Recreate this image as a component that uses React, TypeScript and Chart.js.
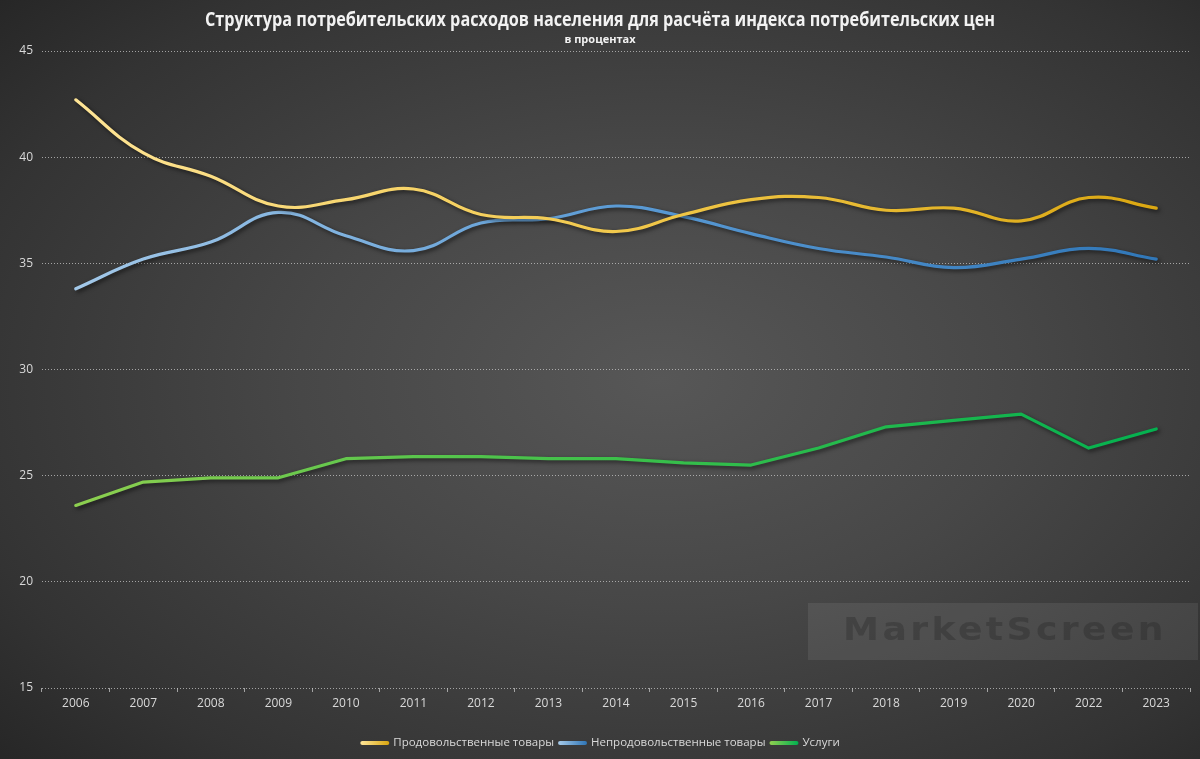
import React, { useEffect, useRef } from "react";
import { Chart, registerables } from "chart.js";
Chart.register(...registerables);

const titleText = "Структура потребительских расходов населения для расчёта индекса потребительских цен";
const subtitleText = "в процентах";
const watermarkText = "MarketScreen";

const years = ["2006", "2007", "2008", "2009", "2010", "2011", "2012", "2013", "2014", "2015", "2016", "2017", "2018", "2019", "2020", "2022", "2023"];
const seriesNames = ["Продовольственные товары", "Непродовольственные товары", "Услуги"];
const food = [42.7, 40.2, 39.1, 37.7, 38.0, 38.5, 37.3, 37.1, 36.5, 37.3, 38.0, 38.1, 37.5, 37.6, 37.0, 38.1, 37.6];
const nonFood = [33.8, 35.2, 36.0, 37.4, 36.3, 35.6, 36.9, 37.1, 37.7, 37.2, 36.4, 35.7, 35.3, 34.8, 35.2, 35.7, 35.2];
const services = [23.6, 24.7, 24.9, 24.9, 25.8, 25.9, 25.9, 25.8, 25.8, 25.6, 25.5, 26.3, 27.3, 27.6, 27.9, 26.3, 27.2];

const palettes = [
  ["#FFE69A", "#F2C94C", "#D9A50E"],
  ["#A7CBEA", "#5B9BD5", "#2E75B6"],
  ["#92D050", "#3CC04A", "#00B050"],
];

const FONT = '"Open Sans", "Noto Sans", sans-serif';

function gradient(p: string[]) {
  return (ctx: any) => {
    const chart = ctx.chart;
    const a = chart.chartArea;
    if (!a) return p[1];
    const g = chart.ctx.createLinearGradient(a.left, 0, a.right, 0);
    g.addColorStop(0, p[0]);
    g.addColorStop(0.5, p[1]);
    g.addColorStop(1, p[2]);
    return g;
  };
}

const decor = {
  id: "decor",
  beforeDraw(chart: any) {
    const ctx = chart.ctx;
    ctx.save();
    ctx.fillStyle = "rgba(255,255,255,0.08)";
    ctx.fillRect(808, 603, 390, 57);
    ctx.font = `bold 32px "DejaVu Sans", sans-serif`;
    (ctx as any).letterSpacing = "3px";
    ctx.fillStyle = "rgba(30,30,30,0.28)";
    ctx.textAlign = "left";
    ctx.textBaseline = "middle";
    const w = ctx.measureText(watermarkText).width;
    ctx.translate(843, 632);
    ctx.scale(324 / w, 1);
    ctx.fillText(watermarkText, 0, 0);
    ctx.restore();
  },
  beforeDatasetDraw(chart: any) {
    const ctx = chart.ctx;
    ctx.save();
    ctx.shadowColor = "rgba(0,0,0,0.6)";
    ctx.shadowBlur = 4;
    ctx.shadowOffsetX = 2;
    ctx.shadowOffsetY = 2;
  },
  afterDatasetDraw(chart: any) {
    chart.ctx.restore();
  },
  afterDraw(chart: any) {
    const ctx = chart.ctx;
    ctx.save();
    ctx.textAlign = "center";
    ctx.textBaseline = "middle";
    ctx.fillStyle = "#F2F2F2";
    ctx.font = `bold 19px ${FONT}`;
    ctx.fillText(titleText, 600, 21, 790);
    ctx.font = `bold 11px ${FONT}`;
    ctx.fillStyle = "#F2F2F2";
    ctx.fillText(subtitleText, 600, 40, 76);

    // legend
    ctx.font = `11.5px ${FONT}`;
    ctx.textAlign = "left";
    const sw = 29, gap1 = 4, gap2 = 4;
    const widths = seriesNames.map((n) => ctx.measureText(n).width);
    const total = widths.reduce((s, v) => s + v + sw + gap1, 0) + gap2 * (seriesNames.length - 1);
    let x = 600 - total / 2;
    const y = 743;
    seriesNames.forEach((n, i) => {
      const p = palettes[i];
      const g = ctx.createLinearGradient(x, 0, x + sw, 0);
      g.addColorStop(0, p[0]);
      g.addColorStop(1, p[2]);
      ctx.strokeStyle = g;
      ctx.lineWidth = 4;
      ctx.lineCap = "round";
      ctx.beginPath();
      ctx.moveTo(x + 2, y);
      ctx.lineTo(x + sw - 2, y);
      ctx.stroke();
      x += sw + gap1;
      ctx.fillStyle = "#D9D9D9";
      ctx.fillText(n, x, y);
      x += widths[i] + gap2;
    });
    ctx.restore();
  },
};

export default function App() {
  const ref = useRef<HTMLCanvasElement>(null);
  useEffect(() => {
    document.body.style.margin = "0";
    const mk = (label: string, data: number[], i: number, tension: number) => ({
      label,
      data,
      borderColor: gradient(palettes[i]),
      borderWidth: 3.2,
      pointRadius: 0,
      pointHoverRadius: 0,
      tension,
      borderCapStyle: "round" as const,
      borderJoinStyle: "round" as const,
      fill: false,
    });
    const chart = new Chart(ref.current as HTMLCanvasElement, {
      type: "line",
      data: {
        labels: years,
        datasets: [
          mk(seriesNames[0], food, 0, 0.42),
          mk(seriesNames[1], nonFood, 1, 0.42),
          mk(seriesNames[2], services, 2, 0),
        ],
      },
      options: {
        animation: false,
        responsive: true,
        maintainAspectRatio: false,
        layout: { padding: { top: 51, left: 0, right: 10, bottom: 41 } },
        plugins: {
          legend: { display: false },
          title: { display: false },
          tooltip: { enabled: false },
        },
        scales: {
          x: {
            offset: true,
            grid: {
              display: true,
              drawOnChartArea: false,
              drawTicks: true,
              tickLength: 4,
              offset: true,
              tickColor: "rgba(190,190,190,0.8)",
              tickWidth: 1,
            },
            border: { display: false },
            ticks: { color: "#D9D9D9", font: { family: FONT, size: 12 }, padding: 4, maxRotation: 0, autoSkip: false },
            afterFit: (s: any) => { s.height = 30; },
          },
          y: {
            min: 15,
            max: 45,
            ticks: { stepSize: 5, color: "#D9D9D9", font: { family: FONT, size: 12 }, padding: 9 },
            grid: { color: "rgba(200,200,200,0.75)", lineWidth: 1, drawTicks: false },
            border: { display: false, dash: [1, 2] },
            afterFit: (s: any) => { s.width = 42; },
          },
        },
      },
      plugins: [decor],
    });
    return () => chart.destroy();
  }, []);
  return (
    <div
      style={{
        position: "fixed",
        left: 0,
        top: 0,
        width: 1200,
        height: 759,
        background: "radial-gradient(ellipse 75% 75% at 55% 50%, #575757 0%, #474747 40%, #333333 80%, #262626 100%)",
      }}
    >
      <canvas ref={ref} />
    </div>
  );
}
